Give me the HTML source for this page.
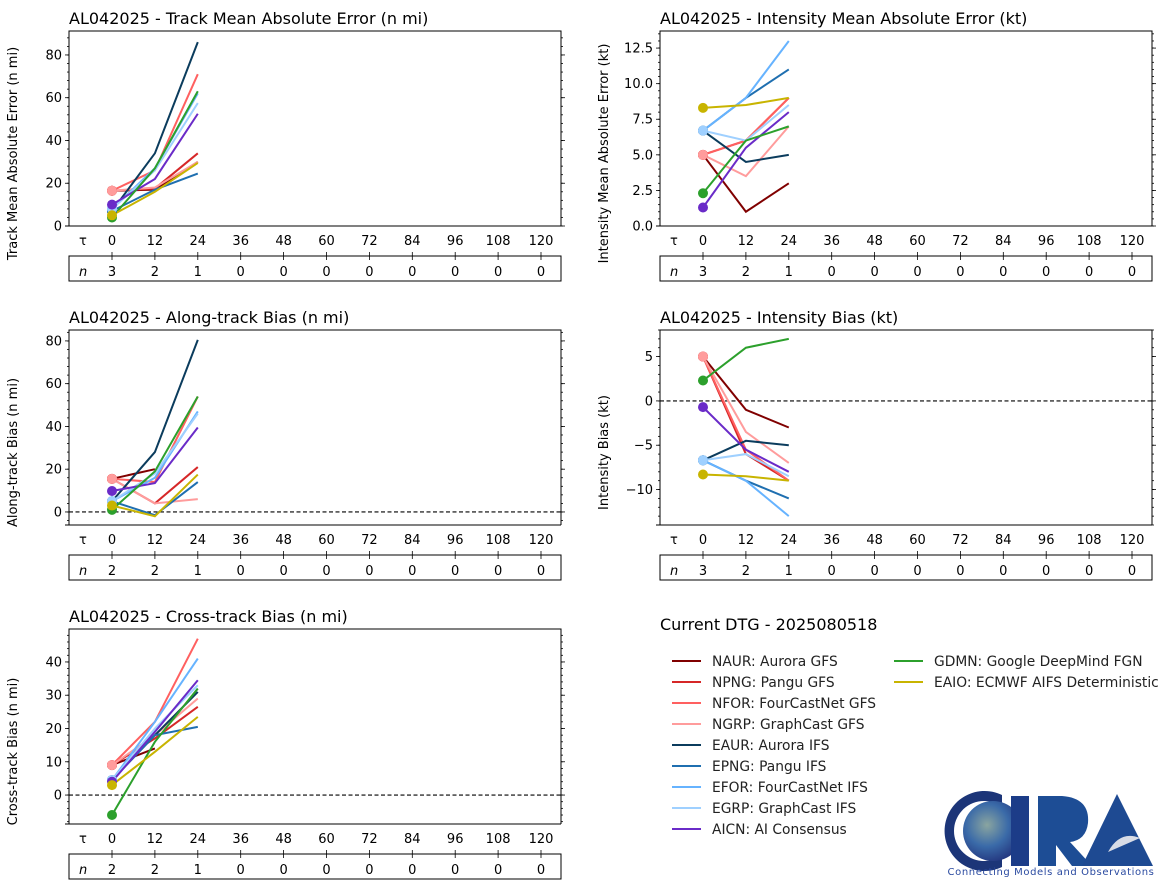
<!DOCTYPE html>
<html><head><meta charset="utf-8"><style>
body{margin:0;background:#fff;}
svg{display:block;font-family:"DejaVu Sans","Liberation Sans",sans-serif;}
</style></head><body>
<svg id="fig" width="1174" height="894" viewBox="0 0 1174 894"></svg>
<script>
const models = ["NAUR","NPNG","NFOR","NGRP","EAUR","EPNG","EFOR","EGRP","AICN","GDMN","EAIO"];
const modelLabels = ["NAUR: Aurora GFS","NPNG: Pangu GFS","NFOR: FourCastNet GFS","NGRP: GraphCast GFS","EAUR: Aurora IFS","EPNG: Pangu IFS","EFOR: FourCastNet IFS","EGRP: GraphCast IFS","AICN: AI Consensus","GDMN: Google DeepMind FGN","EAIO: ECMWF AIFS Deterministic"];
const colors = ["#800000","#d62728","#ff6060","#ff9c9c","#0b3c5d","#1f6fb0","#66b3ff","#9fd0ff","#6a2bc8","#2ca02c","#c8b400"];
const taus = [0,12,24,36,48,60,72,84,96,108,120];
const leadTimes = [0,12,24];
// Track MAE
const trackMAE = [[16.5,17,30],[16.5,17.5,34],[16.5,26,71],[16.5,18,30],[7,34,86],[7,17,24.5],[8,27,62],[8,26,57.5],[10,22,52.5],[4,27,63],[5,16,29.5]];
const trackN = [3,2,1,0,0,0,0,0,0,0,0];
// Intensity MAE
const intMAE = [[5,1,3],[5,6,9],[5,6,9],[5,3.5,7],[6.7,4.5,5],[6.7,9,11],[6.7,9,13],[6.7,6,8.5],[1.3,5.5,8],[2.3,6,7],[8.3,8.5,9]];
const intN = [3,2,1,0,0,0,0,0,0,0,0];
// Along-track bias
const alongBias = [[15.5,20,null],[15.5,4,21],[15.5,14,54],[15.5,4,6],[5,28,80.5],[5,-1.5,14],[5,16,47],[5,18,46],[9.8,13.5,39.5],[1,19,54],[3,-2,17.5]];
const alongN = [2,2,1,0,0,0,0,0,0,0,0];
// Intensity bias
const intBias = [[5,-1,-3],[5,-6,-9],[5,-5.5,-9],[5,-3.5,-7],[-6.7,-4.5,-5],[-6.7,-9,-11],[-6.7,-9,-13],[-6.7,-6,-8.5],[-0.7,-5.5,-8],[2.3,6,7],[-8.3,-8.5,-9]];
const intBiasN = [3,2,1,0,0,0,0,0,0,0,0];
// Cross-track bias
const crossBias = [[9,14,null],[9,17,26.5],[9,22,47],[9,18,29],[4.5,18,31],[4.5,18,20.5],[4.5,22,41],[4.5,20,33],[4,19,34.5],[-6,16,32],[3,13,23.5]];
const crossN = [2,2,1,0,0,0,0,0,0,0,0];

const NS="http://www.w3.org/2000/svg";
const svg=document.getElementById('fig');
function mk(tag,attrs,parent){const e=document.createElementNS(NS,tag);for(const k in attrs)e.setAttribute(k,attrs[k]);(parent||svg).appendChild(e);return e;}

function panel(o){
  const g=mk('g',{});
  
  
  const L=o.x, R=o.x+492, T=o.y, B=o.y+195;
  const sx=t=>112+(o.x-69)+(t)*429/120;
  const sy=v=>B-(v-o.ymin)*(B-T)/(o.ymax-o.ymin);
  const ti=mk('text',{x:L,y:T-7,'font-size':16,fill:'#000'},g);ti.textContent=o.title;
  
  const yl=mk('text',{x:0,y:0,'font-size':13,'text-anchor':'middle',transform:`translate(${L-52},${(T+B)/2+25}) rotate(-90)`},g);yl.textContent=o.ylabel;
  
  for(let v=Math.ceil(o.ymin/o.minor)*o.minor; v<=o.ymax+1e-9; v+=o.minor){
    const y=sy(v);
    mk('line',{x1:L-2,x2:L,y1:y,y2:y,stroke:'#000','stroke-width':0.8},g);
    mk('line',{x1:R,x2:R+2,y1:y,y2:y,stroke:'#000','stroke-width':0.8},g);
  }
  for(let v=Math.ceil(o.ymin/o.major)*o.major; v<=o.ymax+1e-9; v+=o.major){
    const y=sy(v);
    mk('line',{x1:L-4,x2:L,y1:y,y2:y,stroke:'#000','stroke-width':0.8},g);
    mk('line',{x1:R,x2:R+4,y1:y,y2:y,stroke:'#000','stroke-width':0.8},g);
    const t=mk('text',{x:L-7,y:y+4.5,'font-size':13,'text-anchor':'end'},g);
    t.textContent=o.fmt?v.toFixed(1):String(Math.round(v)).replace('-','\u2212');
    
  }
  if(o.zero){mk('line',{x1:L,x2:R,y1:sy(0),y2:sy(0),stroke:'#000','stroke-width':1.1,'stroke-dasharray':'4,2.5'},g);}
  const clip='c'+o.name;
  const cp=mk('clipPath',{id:clip},g);mk('rect',{x:L,y:T,width:R-L,height:B-T},cp);
  o.data.forEach((s,i)=>{
    let d='';let first=true;
    s.forEach((v,j)=>{if(v==null)return;d+=(first?'M':'L')+sx(leadTimes[j])+','+sy(v);first=false;});
    const p=mk('path',{d,fill:'none',stroke:colors[i],'stroke-width':2,'clip-path':`url(#${clip})`},g);
    
    
  });
  o.data.forEach((s,i)=>{
    const c=mk('circle',{cx:sx(leadTimes[0]),cy:sy(s[0]),r:5,fill:colors[i]},g);
    
    
  });
  mk('path',{d:`M${L},${B}L${L},${T}L${R},${T}L${R},${B}`,fill:'none',stroke:'#000','stroke-width':1},g);
  mk('line',{x1:L-4,x2:R,y1:B,y2:B,stroke:'#000','stroke-width':1},g);
  const r1=B+30,r2=B+55;
  mk('rect',{x:L,y:r1,width:R-L,height:r2-r1,fill:'none',stroke:'#000','stroke-width':1},g);
  const tl=mk('text',{x:L+10,y:B+19,'font-size':13},g);tl.textContent='\u03c4';
  const nl=mk('text',{x:L+10,y:r1+20,'font-size':13,'font-style':'italic'},g);nl.textContent='n';
  taus.forEach((t,k)=>{
    const x=sx(t);
    mk('line',{x1:x,x2:x,y1:r1-4,y2:r1+4,stroke:'#000','stroke-width':0.8},g);
    const a=mk('text',{x,y:B+19,'font-size':13,'text-anchor':'middle'},g);a.textContent=t;
    
    const b=mk('text',{x,y:r1+20,'font-size':13,'text-anchor':'middle'},g);b.textContent=o.n[k];
    
  });
}
panel({name:'track-mae-panel',x:69,y:31,ymin:0,ymax:91.2,major:20,minor:4,title:'AL042025 - Track Mean Absolute Error (n mi)',ylabel:'Track Mean Absolute Error (n mi)',data:trackMAE,n:trackN});
panel({name:'intensity-mae-panel',x:660,y:31,ymin:0,ymax:13.7,major:2.5,minor:0.5,fmt:true,title:'AL042025 - Intensity Mean Absolute Error (kt)',ylabel:'Intensity Mean Absolute Error (kt)',data:intMAE,n:intN});
panel({name:'along-track-panel',x:69,y:330,ymin:-6.1,ymax:85.1,major:20,minor:4,zero:true,title:'AL042025 - Along-track Bias (n mi)',ylabel:'Along-track Bias (n mi)',data:alongBias,n:alongN});
panel({name:'intensity-bias-panel',x:660,y:330,ymin:-14,ymax:8,major:5,minor:1,zero:true,title:'AL042025 - Intensity Bias (kt)',ylabel:'Intensity Bias (kt)',data:intBias,n:intBiasN});
panel({name:'cross-track-panel',x:69,y:629,ymin:-8.7,ymax:49.9,major:10,minor:2,zero:true,title:'AL042025 - Cross-track Bias (n mi)',ylabel:'Cross-track Bias (n mi)',data:crossBias,n:crossN});

const lg=mk('g',{});


const lt=mk('text',{x:660,y:630,'font-size':16},lg);lt.textContent='Current DTG - 2025080518';
models.forEach((m,i)=>{
  const col=i<9?0:1, row=i<9?i:i-9;
  const x=col?894:672, y=661+row*21;
  const e=mk('g',{},lg);
  
  
  mk('line',{x1:x,x2:x+29,y1:y,y2:y,stroke:colors[i],'stroke-width':2},e);
  const t=mk('text',{x:x+40,y:y+5,'font-size':13.8,fill:'#222'},e);t.textContent=modelLabels[i];
});

const logo=mk('g',{});


mk('defs',{},logo).innerHTML='<radialGradient id="earth" cx="40%" cy="40%" r="65%"><stop offset="0" stop-color="#8aa5a0"/><stop offset="0.55" stop-color="#3a6aa8"/><stop offset="1" stop-color="#23357e"/></radialGradient>';
mk('path',{d:'M1002,795 A40,40 0 1,0 1002,867 L1002,855 A30,30 0 1,1 1002,807 Z',fill:'#1c3578'},logo);
mk('circle',{cx:993,cy:831,r:30,fill:'url(#earth)'},logo);
mk('rect',{x:1011,y:796,width:18,height:70,fill:'#1c3c88'},logo);
mk('path',{d:'M1038,796 L1062,796 Q1090,798 1088,823 Q1086,840 1070,842 L1092,866 L1072,866 L1056,845 L1056,866 L1038,866 Z',fill:'#1d4d95'},logo);
mk('path',{d:'M1117,794 L1153,866 L1082,866 Z',fill:'#1e4a92'},logo);
mk('path',{d:'M1108,852 Q1120,830 1140,838 Z',fill:'#d8dce6'},logo);
const lc=mk('text',{x:1051,y:875,'font-size':10,'text-anchor':'middle',fill:'#2a4aa0','letter-spacing':'0.6'},logo);lc.textContent='Connecting Models and Observations';
</script>
</body></html>
